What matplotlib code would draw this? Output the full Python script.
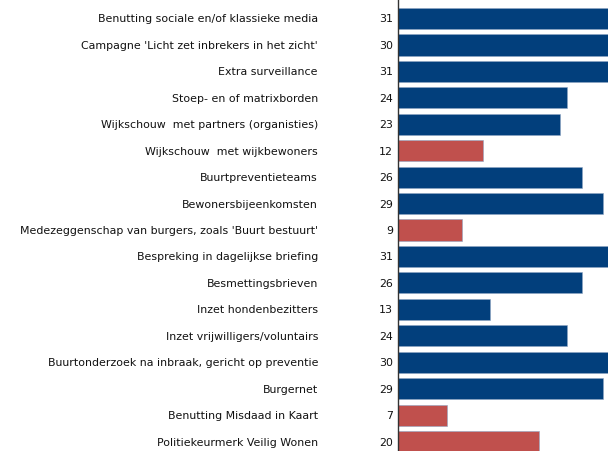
import matplotlib
matplotlib.use("Agg")
import matplotlib.pyplot as plt
import matplotlib.transforms as mtransforms

# Data
categories = [
    "Benutting sociale en/of klassieke media",
    "Campagne 'Licht zet inbrekers in het zicht'",
    "Extra surveillance",
    "Stoep- en of matrixborden",
    "Wijkschouw  met partners (organisties)",
    "Wijkschouw  met wijkbewoners",
    "Buurtpreventieteams",
    "Bewonersbijeenkomsten",
    "Medezeggenschap van burgers, zoals 'Buurt bestuurt'",
    "Bespreking in dagelijkse briefing",
    "Besmettingsbrieven",
    "Inzet hondenbezitters",
    "Inzet vrijwilligers/voluntairs",
    "Buurtonderzoek na inbraak, gericht op preventie",
    "Burgernet",
    "Benutting Misdaad in Kaart",
    "Politiekeurmerk Veilig Wonen",
]
values = [31, 30, 31, 24, 23, 12, 26, 29, 9, 31, 26, 13, 24, 30, 29, 7, 20]
highlight = [False, False, False, False, False, True, False, False, True,
             False, False, False, False, False, False, True, True]

blue = "#023f7c"
red = "#c0504d"
colors = [red if h else blue for h in highlight]

plt.rcParams['font.family'] = ['DejaVu Sans']

W, H = 608, 452
fig = plt.figure(figsize=(W / 100, H / 100), dpi=100)
ax = fig.add_axes([398 / W, 0, 1 - 398 / W, 1])

ypos = list(range(len(categories)))
ax.barh(ypos, values, height=0.8, color=colors, edgecolor="#8fa6c4", linewidth=0.4)

# row 0 centred at pixel 19.5, spacing 26.44 px
row_px = 26.44
ax.set_ylim((H - 19.5) / row_px, -19.5 / row_px)
ax.set_xlim(0, (W - 398) / 7.06)

ax.set_xticks([])
ax.set_yticks([])
for s in ["top", "right", "bottom"]:
    ax.spines[s].set_visible(False)
ax.spines["left"].set_color("#333333")
ax.spines["left"].set_linewidth(1.0)

trans = mtransforms.blended_transform_factory(fig.transFigure, ax.transData)
for i, (cat, v) in enumerate(zip(categories, values)):
    ax.text(318 / W, i, cat, transform=trans, ha="right", va="center",
            fontsize=7.9, color="#111111")
    ax.text(393 / W, i, str(v), transform=trans, ha="right", va="center",
            fontsize=7.9, color="#111111")

fig.savefig("out.png", dpi=100)
